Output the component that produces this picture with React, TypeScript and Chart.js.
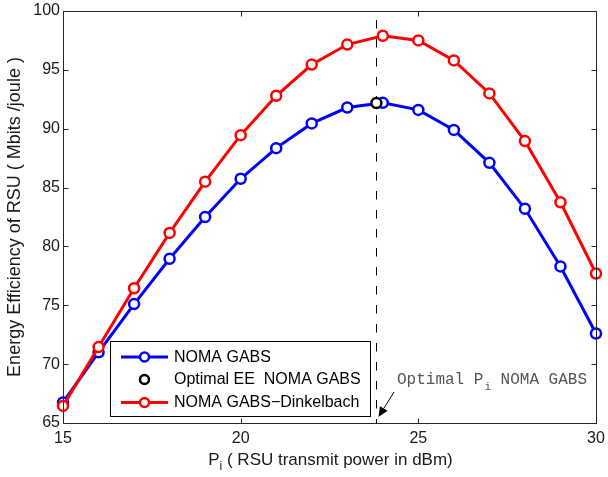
import React, { useEffect, useRef } from "react";
import { Chart, registerables } from "chart.js";

Chart.register(...registerables);

const powerLevels = [15, 16, 17, 18, 19, 20, 21, 22, 23, 24, 25, 26, 27, 28, 29, 30];
const nomaGabs = [66.75, 71.0, 75.1, 78.95, 82.5, 85.75, 88.35, 90.45, 91.8, 92.2, 91.6, 89.9, 87.1, 83.2, 78.3, 72.6];
const nomaDinkelbach = [66.45, 71.45, 76.45, 81.15, 85.5, 89.45, 92.8, 95.45, 97.15, 97.9, 97.5, 95.8, 93.0, 88.95, 83.75, 77.7];
const optimalX = 23.82;
const optimalY = 92.18;
const xTicks = [15, 20, 25, 30];
const yTicks = [65, 70, 75, 80, 85, 90, 95, 100];
const seriesLabels = ["NOMA GABS", "Optimal EE  NOMA GABS", "NOMA GABS\u2212Dinkelbach"];

const FONT = '"Liberation Sans", Arial, sans-serif';
const MONO = '"Liberation Mono", "Courier New", monospace';

const framePlugin = {
  id: "frame",
  beforeDatasetsDraw(chart: any) {
    const { ctx, chartArea: a, scales } = chart;
    const x = scales.x;
    ctx.save();
    const px = Math.round(x.getPixelForValue(optimalX)) + 0.5;
    ctx.strokeStyle = "#000";
    ctx.lineWidth = 1;
    ctx.setLineDash([8.5, 10.5]);
    ctx.beginPath();
    ctx.moveTo(px, a.top + 9);
    ctx.lineTo(px, a.bottom);
    ctx.stroke();
    ctx.restore();
  },
  afterDatasetsDraw(chart: any) {
    const { ctx, chartArea: a, scales } = chart;
    const x = scales.x;
    const y = scales.y;
    ctx.save();
    ctx.setLineDash([]);
    ctx.strokeStyle = "#262626";
    ctx.lineWidth = 1;
    const L = Math.round(a.left) + 0.5;
    const R = Math.round(a.right) + 0.5;
    const T = Math.round(a.top) + 0.5;
    const B = Math.round(a.bottom) + 0.5;
    ctx.strokeRect(L, T, R - L, B - T);
    ctx.beginPath();
    xTicks.forEach((v) => {
      const p = Math.round(x.getPixelForValue(v)) + 0.5;
      ctx.moveTo(p, B);
      ctx.lineTo(p, B - 5);
      ctx.moveTo(p, T);
      ctx.lineTo(p, T + 5);
    });
    yTicks.forEach((v) => {
      const p = Math.round(y.getPixelForValue(v)) + 0.5;
      ctx.moveTo(L, p);
      ctx.lineTo(L + 5, p);
      ctx.moveTo(R, p);
      ctx.lineTo(R - 5, p);
    });
    ctx.stroke();
    // tick labels
    ctx.fillStyle = "#1a1a1a";
    ctx.font = `16px ${FONT}`;
    ctx.textAlign = "center";
    ctx.textBaseline = "middle";
    xTicks.forEach((v) => {
      ctx.fillText(String(v), x.getPixelForValue(v), a.bottom + 16);
    });
    ctx.textAlign = "right";
    yTicks.forEach((v) => {
      ctx.fillText(String(v), a.left - 3, y.getPixelForValue(v));
    });
    // x title with subscript
    ctx.textAlign = "left";
    ctx.textBaseline = "alphabetic";
    const base = a.bottom + 42;
    const t1 = "P";
    const t2 = "i";
    const t3 = " ( RSU transmit power in dBm)";
    ctx.font = `17px ${FONT}`;
    const w1 = ctx.measureText(t1).width;
    const w3 = ctx.measureText(t3).width;
    ctx.font = `12px ${FONT}`;
    const w2 = ctx.measureText(t2).width;
    const total = w1 + w2 + w3;
    const sx = (a.left + a.right) / 2 - total / 2 + 1;
    ctx.font = `17px ${FONT}`;
    ctx.fillText(t1, sx, base);
    ctx.font = `12px ${FONT}`;
    ctx.fillText(t2, sx + w1, base + 5);
    ctx.font = `17px ${FONT}`;
    ctx.fillText(t3, sx + w1 + w2, base);
    // y title
    ctx.save();
    ctx.translate(20, 217);
    ctx.rotate(-Math.PI / 2);
    ctx.textAlign = "center";
    ctx.textBaseline = "alphabetic";
    ctx.font = `18px ${FONT}`;
    ctx.fillText("Energy Efficiency of RSU ( Mbits /joule )", 0, 0);
    ctx.restore();

    // legend
    const lx = 110.5, ly = 341.5, lw = 260, lh = 75;
    ctx.fillStyle = "#fff";
    ctx.fillRect(lx, ly, lw, lh);
    ctx.strokeStyle = "#000";
    ctx.lineWidth = 1;
    ctx.strokeRect(lx, ly, lw, lh);
    const rows = [357, 379.5, 402.5];
    const colors = ["#0000ff", "#000000", "#ff0000"];
    rows.forEach((ry, i) => {
      ctx.strokeStyle = colors[i];
      ctx.lineWidth = 3;
      if (i !== 1) {
        ctx.beginPath();
        ctx.moveTo(121, ry);
        ctx.lineTo(168, ry);
        ctx.stroke();
      }
      ctx.fillStyle = "#fff";
      ctx.beginPath();
      ctx.arc(144.5, ry, 4.5, 0, Math.PI * 2);
      ctx.fill();
      ctx.lineWidth = 2.5;
      ctx.stroke();
      ctx.fillStyle = "#000";
      ctx.font = `16px ${FONT}`;
      ctx.textAlign = "left";
      ctx.textBaseline = "middle";
      ctx.fillText(seriesLabels[i], 174, ry + 0.5);
    });

    // annotation
    ctx.fillStyle = "#555";
    ctx.textBaseline = "alphabetic";
    ctx.font = `16px ${MONO}`;
    const a1 = "Optimal P";
    const a2 = "i";
    const a3 = " NOMA GABS";
    const ax = 397;
    const ab = 384;
    ctx.fillText(a1, ax, ab);
    const aw1 = ctx.measureText(a1).width;
    ctx.font = `11px ${MONO}`;
    ctx.fillText(a2, ax + aw1 + 1, ab + 6);
    const aw2 = ctx.measureText(a2).width;
    ctx.font = `16px ${MONO}`;
    ctx.fillText(a3, ax + aw1 + aw2 + 1, ab);

    // arrow
    const x0 = 394, y0 = 392, x1 = 378.5, y1 = 417;
    const ang = Math.atan2(y1 - y0, x1 - x0);
    const hl = 10, hw = 4.5;
    const bx = x1 - hl * Math.cos(ang), by = y1 - hl * Math.sin(ang);
    ctx.strokeStyle = "#000";
    ctx.lineWidth = 1;
    ctx.beginPath();
    ctx.moveTo(x0, y0);
    ctx.lineTo(bx, by);
    ctx.stroke();
    ctx.fillStyle = "#000";
    ctx.beginPath();
    ctx.moveTo(x1, y1);
    ctx.lineTo(bx + hw * Math.sin(ang), by - hw * Math.cos(ang));
    ctx.lineTo(bx - hw * Math.sin(ang), by + hw * Math.cos(ang));
    ctx.closePath();
    ctx.fill();
    ctx.restore();
  },
};

export default function App() {
  const ref = useRef<HTMLCanvasElement | null>(null);
  useEffect(() => {
    if (!ref.current) return;
    const toPts = (vals: number[]) => powerLevels.map((p, i) => ({ x: p, y: vals[i] }));
    const chart = new Chart(ref.current, {
      type: "line",
      data: {
        datasets: [
          {
            label: seriesLabels[0],
            data: toPts(nomaGabs),
            borderColor: "#0000ff",
            backgroundColor: "#ffffff",
            borderWidth: 3,
            pointRadius: 5,
            pointBorderWidth: 2.5,
            pointBackgroundColor: "#ffffff",
            pointBorderColor: "#0000ff",
            tension: 0,
            order: 2,
          },
          {
            label: seriesLabels[1],
            data: [{ x: optimalX, y: optimalY }],
            borderColor: "#000000",
            backgroundColor: "#ffffff",
            showLine: false,
            pointRadius: 5,
            pointBorderWidth: 2.5,
            pointBackgroundColor: "#ffffff",
            pointBorderColor: "#000000",
            order: 0,
          },
          {
            label: seriesLabels[2],
            data: toPts(nomaDinkelbach),
            borderColor: "#ff0000",
            backgroundColor: "#ffffff",
            borderWidth: 3,
            pointRadius: 5,
            pointBorderWidth: 2.5,
            pointBackgroundColor: "#ffffff",
            pointBorderColor: "#ff0000",
            tension: 0,
            order: 1,
          },
        ],
      },
      options: {
        animation: false,
        responsive: false,
        maintainAspectRatio: false,
        devicePixelRatio: 1,
        clip: false,
        layout: { padding: { left: 63, right: 12, top: 11, bottom: 54 } },
        plugins: { legend: { display: false }, tooltip: { enabled: false } },
        scales: {
          x: { type: "linear", min: 15, max: 30, display: false },
          y: { type: "linear", min: 65, max: 100, display: false },
        },
      },
      plugins: [framePlugin],
    });
    return () => chart.destroy();
  }, []);
  return (
    <div style={{ position: "fixed", left: 0, top: 0, width: 608, height: 477, background: "#fff" }}>
      <canvas ref={ref} width={608} height={477} style={{ width: 608, height: 477 }} />
    </div>
  );
}
